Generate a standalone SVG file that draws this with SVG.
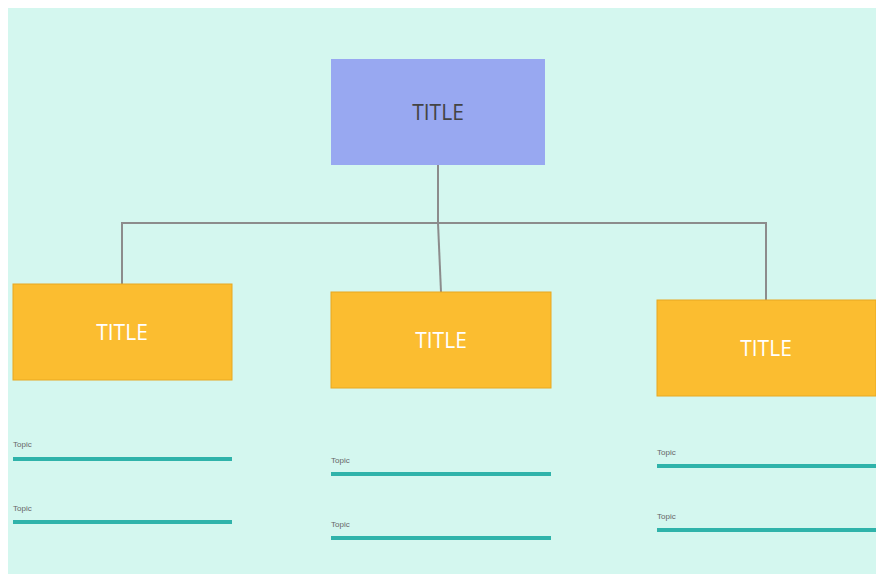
<svg xmlns="http://www.w3.org/2000/svg" width="876" height="574" viewBox="0 0 876 574">
<style>
.bg{fill:#d4f7ef}
.top{fill:#98a8f1}
.box{fill:#fbbd30;stroke:#e8a820;stroke-width:1}
.conn{stroke:#8c8c8c;stroke-width:2;fill:none}
.ul{stroke:#2fb3aa;stroke-width:4}
.tt{font-family:"Open Sans","DejaVu Sans",sans-serif;font-size:21px;text-anchor:middle}
.lbl{font-family:"Liberation Sans",sans-serif;font-size:8px;fill:#666}
</style>
<rect class="bg" x="8" y="8" width="868" height="566"/>
<g id="connectors">
<path class="conn" d="M438 165 V223"/>
<path class="conn" d="M122 284 V223 H766 V300"/>
<path class="conn" d="M438 223 L441 292"/>
</g>
<g id="top">
<rect class="top" x="331" y="59" width="214" height="106"/>
<text class="tt" x="438" y="120" fill="#444">TITLE</text>
</g>
<g id="left">
<rect class="box" x="13" y="284" width="219" height="96"/>
<text class="tt" x="122" y="340" fill="#fff">TITLE</text>
</g>
<g id="middle">
<rect class="box" x="331" y="292" width="220" height="96"/>
<text class="tt" x="441" y="348" fill="#fff">TITLE</text>
</g>
<g id="right">
<rect class="box" x="657" y="300" width="219" height="96"/>
<text class="tt" x="766" y="356" fill="#fff">TITLE</text>
</g>
<g id="left-topics">
<text class="lbl" x="13" y="447">Topic</text>
<line class="ul" x1="13" y1="459" x2="232" y2="459"/>
<text class="lbl" x="13" y="511">Topic</text>
<line class="ul" x1="13" y1="522" x2="232" y2="522"/>
</g>
<g id="middle-topics">
<text class="lbl" x="331" y="463">Topic</text>
<line class="ul" x1="331" y1="474" x2="551" y2="474"/>
<text class="lbl" x="331" y="527">Topic</text>
<line class="ul" x1="331" y1="538" x2="551" y2="538"/>
</g>
<g id="right-topics">
<text class="lbl" x="657" y="455">Topic</text>
<line class="ul" x1="657" y1="466" x2="876" y2="466"/>
<text class="lbl" x="657" y="519">Topic</text>
<line class="ul" x1="657" y1="530" x2="876" y2="530"/>
</g>
</svg>
